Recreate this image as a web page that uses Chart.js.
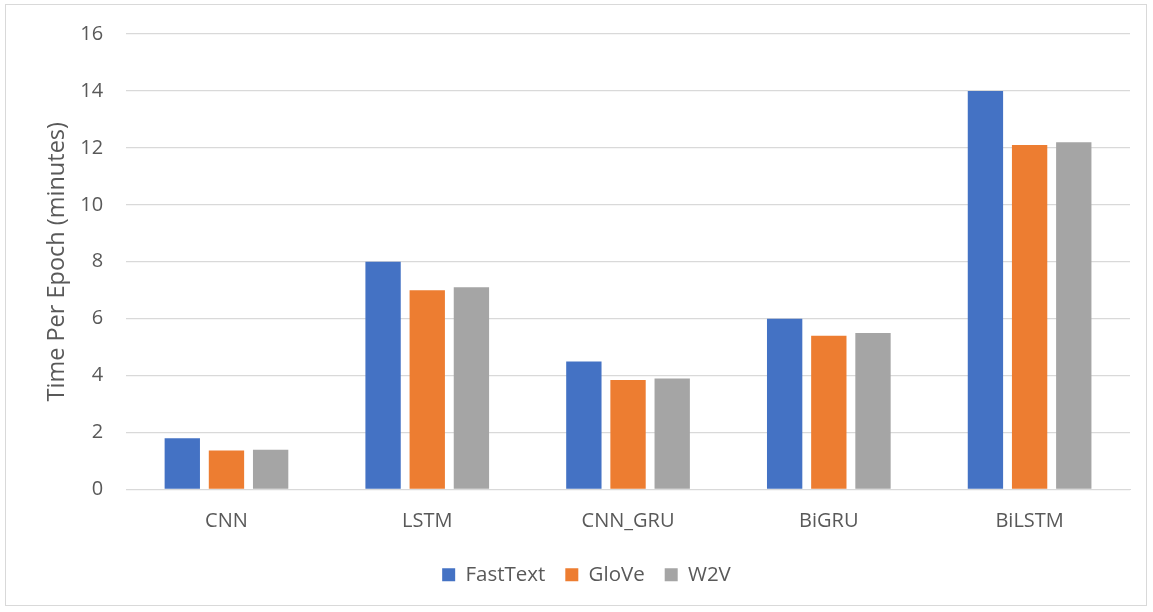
<!DOCTYPE html>
<html>
<head>
<meta charset="utf-8">
<script src="https://cdn.jsdelivr.net/npm/chart.js@4"></script>
<style>
html,body{margin:0;padding:0;background:#fff;}
#wrap{position:absolute;left:5px;top:4px;width:1142px;height:602px;border:1px solid #d9d9d9;box-sizing:border-box;}
canvas{display:block;}
</style>
</head>
<body>
<div id="wrap"><canvas id="c"></canvas></div>
<script>
const categories = ["CNN", "LSTM", "CNN_GRU", "BiGRU", "BiLSTM"];
const fastText = [1.8, 8.0, 4.5, 6.0, 14.0];
const glove = [1.37, 7.0, 3.85, 5.4, 12.1];
const w2v = [1.4, 7.1, 3.9, 5.5, 12.2];
const seriesNames = ["FastText", "GloVe", "W2V"];
const yTitle = "Time Per Epoch (minutes)";

const fontFam = "'Open Sans', 'Liberation Sans', sans-serif";
new Chart(document.getElementById('c'), {
  type: 'bar',
  data: {
    labels: categories,
    datasets: [
      {label: seriesNames[0], data: fastText, backgroundColor: '#4472c4'},
      {label: seriesNames[1], data: glove, backgroundColor: '#ed7d31'},
      {label: seriesNames[2], data: w2v, backgroundColor: '#a5a5a5'}
    ]
  },
  options: {
    responsive: true,
    maintainAspectRatio: false,
    animation: false,
    categoryPercentage: 0.66,
    barPercentage: 0.8,
    layout: {padding: {left: 37, right: 16, top: 0, bottom: 10}},
    plugins: {
      legend: {
        position: 'bottom',
        labels: {boxWidth: 13, boxHeight: 13, padding: 20, color: '#595959', font: {family: fontFam, size: 20.5}}
      },
      tooltip: {enabled: false}
    },
    scales: {
      x: {
        grid: {display: false},
        border: {color: '#d9d9d9', width: 1},
        ticks: {color: '#595959', font: {family: fontFam, size: 20, lineHeight: 0.9}, padding: 14.5}
      },
      y: {
        min: 0, max: 16,
        ticks: {stepSize: 2, color: '#595959', font: {family: fontFam, size: 20, lineHeight: 0.6}, padding: 23},
        grid: {color: '#d9d9d9', lineWidth: 1.3, drawTicks: false},
        border: {display: false},
        title: {display: true, text: yTitle, color: '#595959', font: {family: fontFam, size: 23.5}, padding: {top: 0, bottom: -14}}
      }
    }
  }
});
</script>
</body>
</html>
